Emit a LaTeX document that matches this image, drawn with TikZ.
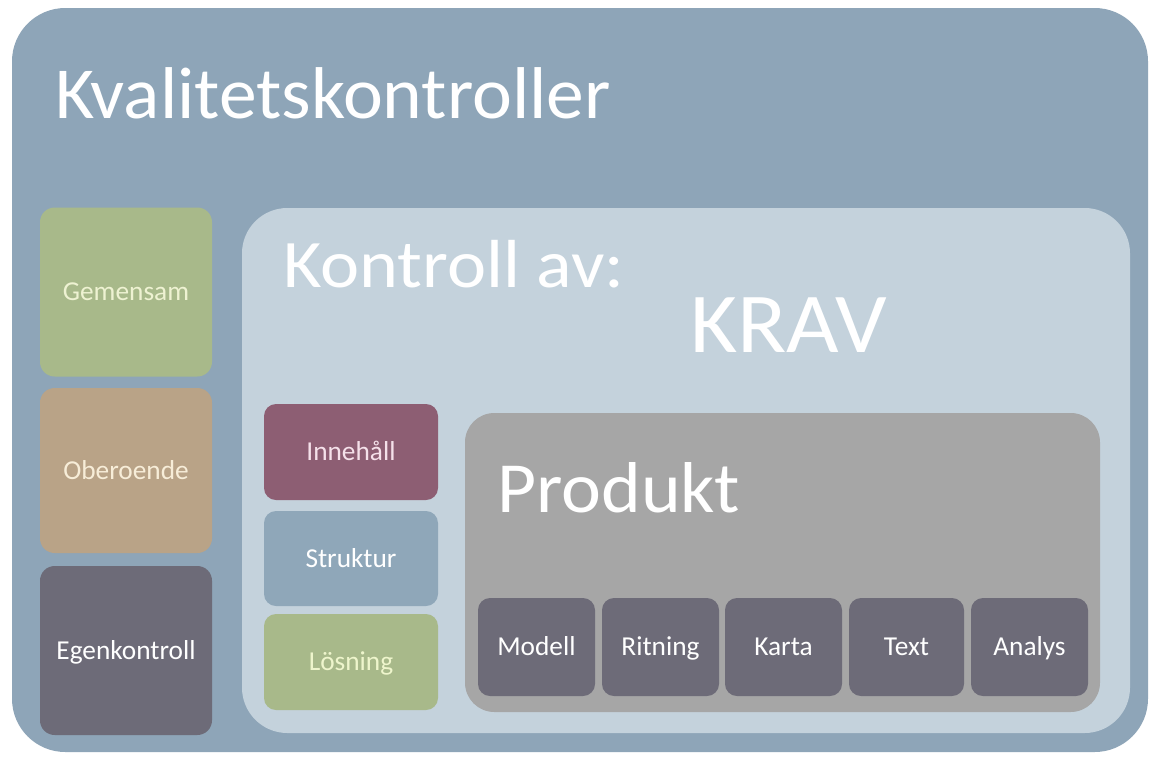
\documentclass[tikz,border=0pt]{standalone}
\usepackage{fontspec}
\setmainfont{Carlito}
\definecolor{outerc}{HTML}{8EA5B8}
\definecolor{innerc}{HTML}{C4D2DC}
\definecolor{greenc}{HTML}{A8B98A}
\definecolor{tanc}{HTML}{B9A387}
\definecolor{darkc}{HTML}{6D6B78}
\definecolor{plumc}{HTML}{8D5E73}
\definecolor{bluec}{HTML}{8FA7B9}
\definecolor{grayc}{HTML}{A6A6A6}
\definecolor{creamg}{HTML}{EEF2D2}
\definecolor{creamt}{HTML}{F7EDD8}
\definecolor{pinkt}{HTML}{F5E1EA}
\definecolor{yellowt}{HTML}{EEF5CC}
\tikzset{
  panel/.style={rectangle, inner sep=0pt, draw=none},
  lbl/.style={font=\fontsize{20.5}{24}\selectfont, text height=14pt, text depth=1pt},
  sidebox/.style={panel, lbl, rounded corners=11pt, minimum width=129pt},
  midbox/.style={panel, lbl, rounded corners=9pt, minimum width=130.5pt, minimum height=72pt},
  prodbox/.style={panel, lbl, rounded corners=9pt, fill=darkc, text=white, minimum width=87.75pt, minimum height=73.5pt},
  heading/.style={anchor=base west, inner sep=0pt, text=white}
}
\begin{document}
\begin{tikzpicture}[x=0.75pt,y=-0.75pt]
\useasboundingbox (0,0) rectangle (1150,758);
\fill[white] (0,0) rectangle (1150,758);
% outer
\node[panel, fill=outerc, rounded corners=40pt, minimum width=852pt, minimum height=558pt] (outer) at (580,380) {};
\node[heading, font=\fontsize{55}{60}\selectfont] (title) at (55,118) {\scalebox{1.03}[1]{Kvalitetskontroller}};
% left column
\node[sidebox, fill=greenc, text=creamg, minimum height=126.75pt] (gem) at (126,292) {Gemensam};
\node[sidebox, fill=tanc, text=creamt, minimum height=123.75pt] (obe) at (126,470.5) {Oberoende};
\node[sidebox, fill=darkc, text=white, minimum height=126.75pt] (egen) at (126,650.5) {Egenkontroll};
% inner
\node[panel, fill=innerc, rounded corners=34pt, minimum width=666pt, minimum height=393.75pt] (inner) at (686,470.5) {};
\node[heading, font=\fontsize{51}{56}\selectfont] (kontroll) at (283,287) {\scalebox{1.09}[1]{Kontroll av:}};
\node[heading, font=\fontsize{64}{70}\selectfont] (krav) at (690,352) {\scalebox{1.065}[1]{KRAV}};
% middle column
\node[midbox, fill=plumc, text=pinkt] (inn) at (351,452) {Innehåll};
\node[midbox, fill=bluec, text=white, minimum height=71.25pt] (str) at (351,558.5) {Struktur};
\node[midbox, fill=greenc, text=yellowt] (los) at (351,662) {Lösning};
% produkt
\node[panel, fill=grayc, rounded corners=22pt, minimum width=476.25pt, minimum height=224.25pt] (prod) at (782.5,562.5) {};
\node[heading, font=\fontsize{54}{60}\selectfont] (prodt) at (497,512) {\scalebox{1.05}[1]{Produkt}};
\node[prodbox] (modell) at (536.5,647) {Modell};
\node[prodbox] (ritning) at (660.5,647) {Ritning};
\node[prodbox] (karta) at (783.5,647) {Karta};
\node[prodbox, minimum width=86.25pt] (text) at (906.5,647) {Text};
\node[prodbox] (analys) at (1029.5,647) {Analys};
\end{tikzpicture}
\end{document}
